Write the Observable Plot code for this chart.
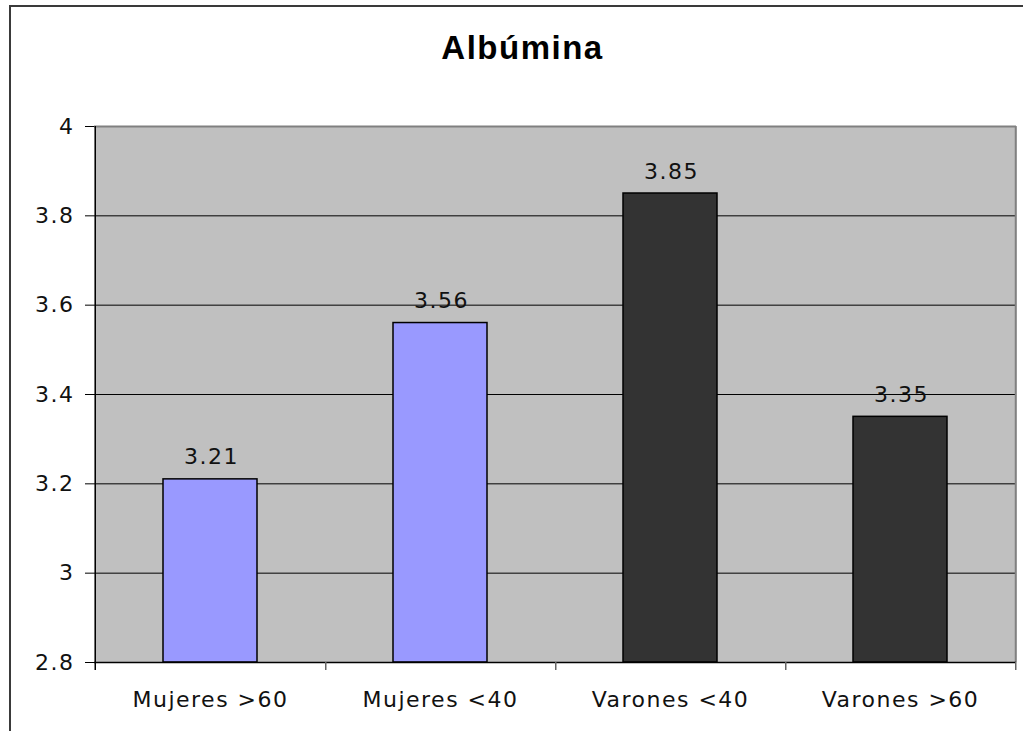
<!DOCTYPE html>
<html>
<head>
<meta charset="utf-8">
<script src="https://cdn.jsdelivr.net/npm/d3@7"></script>
<script src="https://cdn.jsdelivr.net/npm/@observablehq/plot@0.6"></script>
<style>
  html, body { margin: 0; padding: 0; background: #fff; }
  #wrap { position: relative; width: 1023px; height: 731px; overflow: hidden; }
  #border { position: absolute; left: 9px; top: 5px; width: 1100px; height: 800px;
            border-left: 2px solid #3a3a3a; border-top: 2px solid #3a3a3a; box-sizing: border-box; }
  #chart { position: absolute; left: 0; top: 0; }
  #chart svg text { letter-spacing: 1.5px; }
  #chart svg text.title { letter-spacing: 1px; }
</style>
</head>
<body>
<div id="wrap"><div id="border"></div><div id="chart"></div></div>
<script>
const title = "Albúmina";
const categories = ["Mujeres >60", "Mujeres <40", "Varones <40", "Varones >60"];
const values = [3.21, 3.56, 3.85, 3.35];
const groups = ["Mujeres", "Mujeres", "Varones", "Varones"];
const yTicks = [2.8, 3, 3.2, 3.4, 3.6, 3.8, 4];
const gridValues = [3, 3.2, 3.4, 3.6, 3.8];
const yDomain = [2.8, 4];
const groupColors = {Mujeres: "#9999FF", Varones: "#333333"};

const data = categories.map((c, i) => ({category: c, value: values[i], group: groups[i]}));

const W = 1023, H = 731, mL = 94, mR = 7, mT = 126, mB = 69;
const step = (W - mL - mR) / categories.length;
const plotH = H - mT - mB;

const chart = Plot.plot({
  width: W,
  height: H,
  marginLeft: mL,
  marginRight: mR,
  marginTop: mT,
  marginBottom: mB,
  style: {fontFamily: "DejaVu Sans, Verdana, sans-serif", fontSize: "22px", color: "#111", background: "transparent"},
  x: {domain: categories, paddingInner: 0.592, paddingOuter: 0.296, label: null},
  y: {domain: yDomain, label: null},
  marks: [
    Plot.frame({fill: "#c0c0c0", stroke: null}),
    Plot.ruleY(gridValues, {stroke: "#000", strokeWidth: 1}),
    Plot.barY(data, {x: "category", y1: yDomain[0], y2: "value", fill: d => groupColors[d.group], stroke: "#000", strokeWidth: 1.5}),
    Plot.text(data, {x: "category", y: "value", text: d => `${d.value}`, dy: -22, dx: 1, lineAnchor: "middle", fill: "#111", fontSize: 22}),
    Plot.ruleY([yDomain[1]], {stroke: "#808080", strokeWidth: 2}),
    Plot.ruleX([categories[categories.length - 1]], {dx: step / 2, stroke: "#808080", strokeWidth: 2}),
    Plot.ruleY([yDomain[0]], {stroke: "#000", strokeWidth: 1.5}),
    Plot.ruleX(categories, {dx: step / 2, insetTop: plotH, insetBottom: -8, stroke: "#666", strokeWidth: 1.5}),
    Plot.ruleX([categories[0]], {dx: -step / 2, insetBottom: -8, stroke: "#000", strokeWidth: 1.5}),
    Plot.axisY({ticks: yTicks, tickFormat: d => `${d}`, tickSize: 9, tickPadding: 11, stroke: "#000", fill: "#111", label: null}),
    Plot.axisX({tickSize: 0, tickPadding: 29, fill: "#111", label: null}),
    Plot.text([title], {frameAnchor: "top", dy: -78, dx: -33, lineAnchor: "middle", fontFamily: "Liberation Sans, Arial, sans-serif", fontWeight: "bold", fontSize: 33, fill: "#000", className: "title"})
  ]
});
document.getElementById("chart").appendChild(chart);
</script>
</body>
</html>
